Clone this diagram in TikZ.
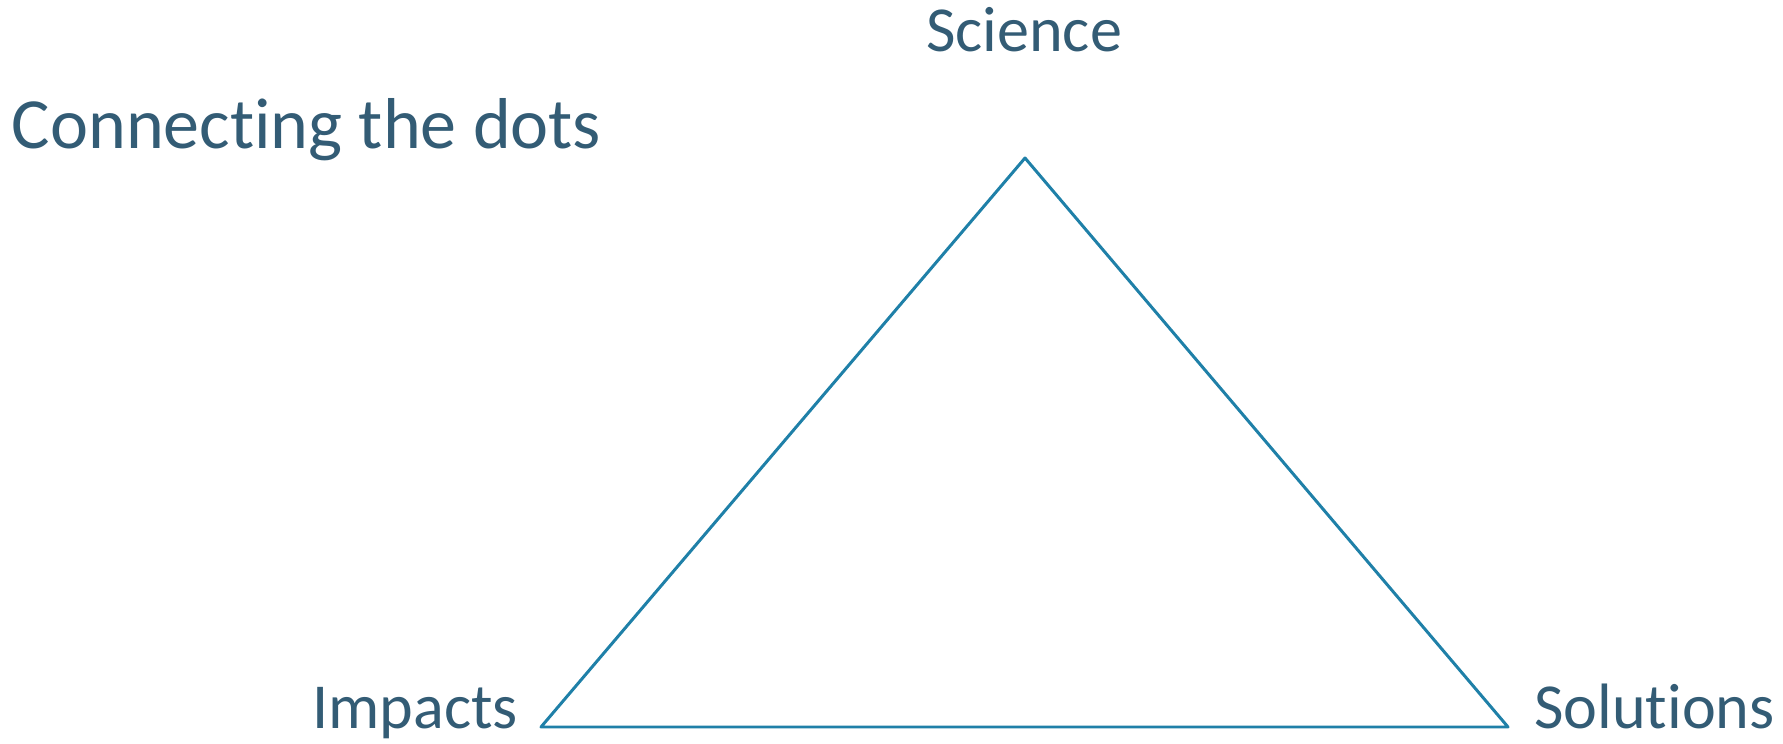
\documentclass[tikz,border=0pt]{standalone}
\usepackage{fontspec}
\setmainfont{Carlito}[Ligatures=NoCommon]
\definecolor{labelblue}{HTML}{335C75}
\definecolor{lineblue}{HTML}{1F80A8}

\begin{document}
\begin{tikzpicture}
	[%%%%%%%%%%%%%%%%%%%%%%%%%%%%%%
	label/.style={inner sep=0pt, text=labelblue, font=\fontsize{36.5}{40}\selectfont},
	heading/.style={inner sep=0pt, text=labelblue, font=\fontsize{41}{48}\selectfont},
	side/.style={draw=lineblue, line width=1.7pt, line join=round},
	]%%%%%%%%%%%%%%%%%%%%%%%%%%%%%%
	
	\useasboundingbox (0,0) rectangle (35.66,14.86);
	
	\coordinate (apex) at (20.50,11.70);
	\coordinate (left) at (10.82,0.32);
	\coordinate (right) at (30.16,0.32);
	\draw[side] (apex) -- (right) -- (left) -- cycle;
	
	\node[heading, anchor=base west] (title) at (0.23,11.88) {Connecting the dots};
	\node[label, anchor=base] (science) at (20.48,13.82) {Science};
	\node[label, anchor=base west] (impacts) at (6.24,0.29) {Impacts};
	\node[label, anchor=base west] (solutions) at (30.68,0.29) {Solutions};
	
\end{tikzpicture}
\end{document}
